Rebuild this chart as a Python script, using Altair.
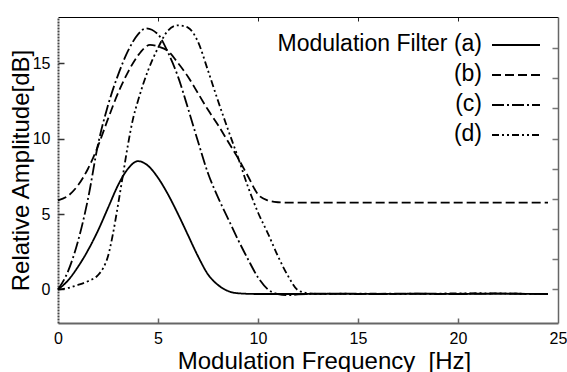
import altair as alt
import pandas as pd

FONT = "Liberation Sans"

series_names = ["a", "b", "c", "d"]
legend_labels = ["Modulation Filter (a)", "(b)", "(c)", "(d)"]

freq_a = [0, 0.5, 1, 1.5, 2, 2.5, 3, 3.5, 4, 4.5, 5, 5.5, 6, 6.5, 7, 7.5, 8, 8.5, 9, 10, 12, 14, 16, 18, 20, 22, 24.5]
amp_a = [0, 0.6, 1.5, 2.6, 3.9, 5.4, 6.9, 8.0, 8.5, 8.2, 7.4, 6.3, 5.0, 3.6, 2.2, 1.0, 0.3, -0.1, -0.25, -0.3, -0.3, -0.28, -0.3, -0.28, -0.3, -0.28, -0.3]

freq_b = [0, 0.5, 1, 1.5, 2, 2.5, 3, 3.5, 4, 4.6, 5, 5.5, 6, 6.5, 7, 7.5, 8, 8.5, 9, 9.5, 10, 10.5, 11, 11.5, 12, 15, 18, 21, 24.5]
amp_b = [5.9, 6.2, 6.9, 8.0, 9.5, 11.3, 13.0, 14.4, 15.5, 16.2, 16.1, 15.8, 15.0, 14.1, 13.0, 11.9, 10.9, 9.8, 8.7, 7.5, 6.3, 5.9, 5.78, 5.75, 5.75, 5.75, 5.75, 5.75, 5.75]

freq_c = [0, 0.5, 1, 1.5, 2, 2.5, 3, 3.5, 4, 4.4, 5, 5.5, 6, 6.5, 7, 7.5, 8, 8.5, 9, 9.5, 10, 10.5, 11, 11.5, 12, 13, 15, 17, 19, 21, 23, 24.5]
amp_c = [0, 1.2, 3.2, 6.0, 9.6, 12.2, 14.2, 15.8, 16.9, 17.3, 16.9, 15.7, 14.1, 12.0, 9.8, 7.7, 6.1, 4.7, 3.3, 2.0, 0.8, 0.0, -0.3, -0.38, -0.33, -0.28, -0.3, -0.27, -0.3, -0.27, -0.28, -0.3]

freq_d = [0, 0.5, 1, 1.5, 2, 2.25, 2.5, 2.75, 3, 3.25, 3.5, 3.75, 4, 4.5, 5, 5.5, 6, 6.5, 7, 7.5, 8, 8.5, 9, 9.5, 10, 10.5, 11, 11.5, 12, 12.5, 13, 15, 17, 19, 21, 23, 24.5]
amp_d = [0, 0.1, 0.3, 0.55, 0.95, 1.4, 2.2, 3.7, 5.6, 7.6, 9.6, 11.3, 12.5, 14.5, 16.0, 17.15, 17.5, 17.35, 16.4, 14.5, 12.5, 10.6, 8.75, 6.8, 5.1, 3.7, 2.2, 0.9, -0.05, -0.25, -0.3, -0.27, -0.3, -0.27, -0.25, -0.28, -0.3]

x_ticks = [0, 5, 10, 15, 20, 25]
x_inner_ticks = [5, 10, 15, 20]
y_ticks_left = [0, 5, 10, 15]
y_ticks_right = [0, 2, 4, 6, 8, 10, 12, 14, 16]
x_title = "Modulation Frequency \u00a0[Hz]"
y_title = "Relative Amplitude[dB]"

rows = []
for name, fs, vs in zip(series_names, [freq_a, freq_b, freq_c, freq_d], [amp_a, amp_b, amp_c, amp_d]):
    for f, v in zip(fs, vs):
        rows.append({"series": name, "f": f, "v": v})
df = pd.DataFrame(rows)

dash_range = [[1, 0], [9, 4], [12, 3, 2, 3], [7, 3, 2, 3, 2, 3]]

W, H = 500, 306
xs = alt.Scale(domain=[0, 25], nice=False, zero=False)
ys = alt.Scale(domain=[-2.22, 18.05], nice=False, zero=False)

lines = alt.Chart(df).mark_line(interpolate="monotone", color="black", strokeWidth=1.8).encode(
    x=alt.X("f:Q", scale=xs, axis=alt.Axis(
        orient="bottom", values=x_ticks, title=x_title, ticks=False, tickSize=0,
        labelPadding=7, labelFontSize=16, labelFont=FONT, labelColor="black",
        labelFlush=False, labelOverlap=False, format="d",
        titleFont=FONT, titleFontSize=24, titleFontWeight="normal", titleColor="black",
        titleX=266, titleY=45, titleBaseline="alphabetic", titleAlign="center",
        domainColor="#666", domainWidth=2, grid=False)),
    y=alt.Y("v:Q", scale=ys, axis=alt.Axis(
        orient="left", values=y_ticks_left, title=y_title, ticks=False, tickSize=0,
        labelPadding=8, labelFontSize=16, labelFont=FONT, labelColor="black",
        labelFlush=False, labelOverlap=False, format="d",
        titleFont=FONT, titleFontSize=24, titleFontWeight="normal", titleColor="black",
        titleX=-30, titleY=H / 2, titleAngle=270, titleBaseline="alphabetic", titleAlign="center",
        domainColor="#444", domainWidth=2, domainDash=[2, 1], grid=False)),
    strokeDash=alt.StrokeDash("series:N", scale=alt.Scale(domain=series_names, range=dash_range), legend=None),
    detail="series:N",
)

# inward ticks on bottom and left edges
ax_b = alt.Chart(df).mark_point(opacity=0).encode(
    x=alt.X("f:Q", scale=xs, axis=alt.Axis(
        orient="top", offset=-H, values=x_inner_ticks, labels=False, domain=False,
        tickSize=5, tickColor="#666", tickWidth=1.5, title=None, grid=False)),
    y=alt.Y("v:Q", scale=ys, axis=alt.Axis(
        orient="right", offset=-W, values=y_ticks_left, labels=False, domain=False,
        tickSize=6, tickColor="#333", tickWidth=1.5, title=None, grid=False)),
)

# top and right borders with inward ticks
ax_c = alt.Chart(df).mark_point(opacity=0).encode(
    x=alt.X("f:Q", scale=xs, axis=alt.Axis(
        orient="bottom", offset=-H, values=x_inner_ticks, labels=False, domain=True,
        domainColor="black", domainWidth=1.2, tickSize=4, tickColor="#222", tickWidth=1,
        title=None, grid=False)),
    y=alt.Y("v:Q", scale=ys, axis=alt.Axis(
        orient="left", offset=-W, values=y_ticks_right, labels=False, domain=True,
        domainColor="#666", domainWidth=1.5, tickSize=6, tickColor="#777", tickWidth=1.5,
        title=None, grid=False)),
)

legend_layers = []
for i, (lab, dash) in enumerate(zip(legend_labels, dash_range)):
    row_y = 28 + 30 * i
    ldf = pd.DataFrame({"label": [lab]})
    legend_layers.append(
        alt.Chart(ldf).mark_text(align="right", baseline="middle", font=FONT, fontSize=23, color="black").encode(
            text="label:N", x=alt.value(424), y=alt.value(row_y - 1))
    )
    legend_layers.append(
        alt.Chart(ldf).mark_rule(color="black", strokeWidth=1.8, strokeDash=dash).encode(
            x=alt.value(434), x2=alt.value(482), y=alt.value(row_y))
    )

chart = alt.layer(lines, ax_b, ax_c, *legend_layers).resolve_axis(
    x="independent", y="independent"
).properties(
    width=W, height=H,
    padding={"left": 58, "top": 17, "right": 9, "bottom": 49},
    autosize=alt.AutoSizeParams(type="none"),
    background="white",
).configure_view(strokeWidth=0)

chart.save("out.html", embed_options={"renderer": "svg", "actions": False})
